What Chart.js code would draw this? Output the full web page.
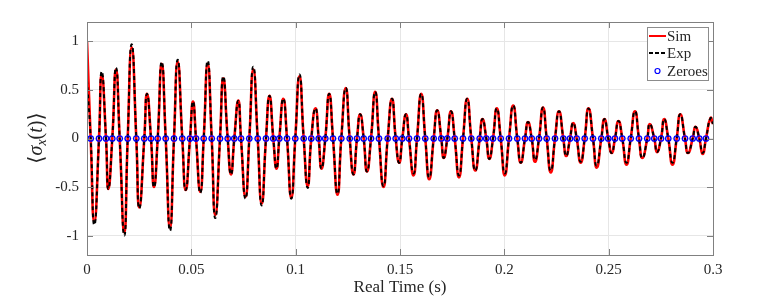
<!DOCTYPE html>
<html>
<head>
<meta charset="utf-8">
<script src="https://cdn.jsdelivr.net/npm/chart.js@4.4.0/dist/chart.umd.min.js"></script>
<style>
  body { margin: 0; background: #fff; }
  #wrap { width: 771px; height: 299px; }
</style>
</head>
<body>
<div id="wrap"><canvas id="chart" width="771" height="299"></canvas></div>
<script>
// peaks / troughs of the signal (time in s)
var extremaT = [0, 0.0035, 0.00704, 0.01021, 0.0139, 0.01788, 0.02142, 0.02506, 0.02875, 0.03211,
  0.0358, 0.03978, 0.04347, 0.0473, 0.0508, 0.0543, 0.05784, 0.06148, 0.06532, 0.06901,
  0.07251, 0.07596, 0.0797, 0.08372, 0.08746, 0.09081, 0.09407, 0.09791, 0.10184, 0.10577,
  0.1095, 0.11238, 0.11607, 0.12005, 0.12402, 0.12771, 0.13092, 0.13418, 0.13811, 0.14209,
  0.14616, 0.14961, 0.15287, 0.15647, 0.16016, 0.16399, 0.16782, 0.17094, 0.17444, 0.17827,
  0.1822, 0.18608, 0.18953, 0.19279, 0.19639, 0.20022, 0.20425, 0.20789, 0.21134, 0.21469,
  0.21853, 0.22227, 0.2262, 0.22965, 0.233, 0.23659, 0.24033, 0.24426, 0.248, 0.25145,
  0.25471, 0.25854, 0.26262, 0.26612, 0.26966, 0.27316, 0.27661, 0.28058, 0.28432, 0.28802,
  0.29161, 0.29506, 0.2988, 0.3];

var simVals = [1.0, -0.86, 0.66, -0.52, 0.71, -0.97, 0.94, -0.71, 0.46, -0.5,
  0.77, -0.92, 0.79, -0.53, 0.38, -0.55, 0.77, -0.79, 0.62, -0.37,
  0.39, -0.6, 0.71, -0.67, 0.44, -0.31, 0.41, -0.61, 0.64, -0.49,
  0.31, -0.31, 0.46, -0.58, 0.52, -0.37, 0.25, -0.34, 0.48, -0.5,
  0.41, -0.25, 0.25, -0.38, 0.46, -0.42, 0.29, -0.2, 0.28, -0.4,
  0.41, -0.33, 0.2, -0.21, 0.31, -0.38, 0.34, -0.25, 0.17, -0.24,
  0.32, -0.35, 0.28, -0.18, 0.16, -0.25, 0.31, -0.3, 0.2, -0.15,
  0.18, -0.27, 0.28, -0.2, 0.15, -0.14, 0.2, -0.27, 0.25, -0.15,
  0.12, -0.16, 0.21, 0.15];

var expVals = [0.6, -0.89, 0.69, -0.52, 0.73, -1.0, 0.97, -0.72, 0.46, -0.5,
  0.79, -0.95, 0.81, -0.53, 0.38, -0.56, 0.8, -0.82, 0.64, -0.37,
  0.39, -0.62, 0.74, -0.69, 0.44, -0.31, 0.41, -0.62, 0.66, -0.51,
  0.31, -0.31, 0.46, -0.57, 0.52, -0.37, 0.25, -0.34, 0.48, -0.49,
  0.41, -0.25, 0.25, -0.36, 0.46, -0.4, 0.29, -0.2, 0.28, -0.38,
  0.41, -0.33, 0.2, -0.21, 0.31, -0.36, 0.34, -0.25, 0.17, -0.22,
  0.32, -0.33, 0.28, -0.18, 0.16, -0.24, 0.31, -0.28, 0.2, -0.15,
  0.18, -0.25, 0.28, -0.2, 0.15, -0.14, 0.2, -0.25, 0.25, -0.15,
  0.12, -0.15, 0.21, 0.15];

// zero crossings (the blue circles)
var zeroT = [0.00177, 0.00575, 0.00911, 0.01212, 0.01567, 0.0195, 0.02363, 0.02746, 0.03067, 0.03388, 0.03772, 0.04169, 0.04567, 0.04936,
  0.05224, 0.05593, 0.05976, 0.06374, 0.06743, 0.07059, 0.0738, 0.07778, 0.0818, 0.08578, 0.08928, 0.09216, 0.09585, 0.09982,
  0.10385, 0.10749, 0.11104, 0.1142, 0.11789, 0.12187, 0.12589, 0.12939, 0.1326, 0.1361, 0.13993, 0.1441, 0.14794, 0.1511,
  0.15431, 0.15815, 0.16212, 0.16615, 0.16979, 0.17267, 0.17621, 0.18019, 0.18417, 0.18819, 0.19136, 0.19457, 0.19826, 0.20224,
  0.20621, 0.2099, 0.21311, 0.21661, 0.2203, 0.22428, 0.22826, 0.23147, 0.23468, 0.23851, 0.24249, 0.24647, 0.24982, 0.25303,
  0.25653, 0.26056, 0.26453, 0.26851, 0.27186, 0.27508, 0.27857, 0.2826, 0.28658, 0.29027, 0.29343, 0.29664];

var xTicks = [0, 0.05, 0.1, 0.15, 0.2, 0.25, 0.3];
var xTickLabels = ['0', '0.05', '0.1', '0.15', '0.2', '0.25', '0.3'];
var yTicks = [-1, -0.5, 0, 0.5, 1];
var yTickLabels = ['-1', '-0.5', '0', '0.5', '1'];

var serif = "'Liberation Serif', 'DejaVu Serif', serif";
var txtColor = '#262626';

function buildLine(vals) {
  var pts = [];
  for (var i = 0; i < extremaT.length; i++) pts.push({ x: extremaT[i], y: vals[i] });
  for (var j = 0; j < zeroT.length; j++) pts.push({ x: zeroT[j], y: 0 });
  pts.sort(function (a, b) { return a.x - b.x; });
  return pts;
}

// box, inward ticks, legend and y label
var frame = {
  id: 'frame',
  afterDatasetsDraw: function (chart) {
    var ctx = chart.ctx, a = chart.chartArea;
    var xs = chart.scales.x, ys = chart.scales.y;
    ctx.save();
    ctx.strokeStyle = '#808080';
    ctx.lineWidth = 1;
    ctx.strokeRect(Math.round(a.left) + 0.5, Math.round(a.top) + 0.5, Math.round(a.right - a.left), Math.round(a.bottom - a.top));
    ctx.beginPath();
    xTicks.forEach(function (v) {
      var px = Math.round(xs.getPixelForValue(v)) + 0.5;
      ctx.moveTo(px, a.bottom); ctx.lineTo(px, a.bottom - 6);
      ctx.moveTo(px, a.top); ctx.lineTo(px, a.top + 6);
    });
    yTicks.forEach(function (v) {
      var py = Math.round(ys.getPixelForValue(v)) + 0.5;
      ctx.moveTo(a.left, py); ctx.lineTo(a.left + 6, py);
      ctx.moveTo(a.right, py); ctx.lineTo(a.right - 6, py);
    });
    ctx.stroke();

    // legend
    var bx = 647, by = 27, bw = 61, bh = 53;
    ctx.fillStyle = '#fff';
    ctx.fillRect(bx, by, bw, bh);
    ctx.strokeStyle = '#8c8c8c';
    ctx.strokeRect(bx + 0.5, by + 0.5, bw, bh);
    var ds = chart.data.datasets;
    ctx.font = '15px ' + serif;
    ctx.textBaseline = 'middle';
    ctx.fillStyle = txtColor;
    var rows = [36, 53, 71];
    ctx.lineWidth = 2;
    ctx.strokeStyle = ds[0].borderColor;
    ctx.beginPath(); ctx.moveTo(649, rows[0]); ctx.lineTo(666, rows[0]); ctx.stroke();
    ctx.strokeStyle = ds[1].borderColor;
    ctx.setLineDash([4, 2]);
    ctx.beginPath(); ctx.moveTo(649, rows[1]); ctx.lineTo(666, rows[1]); ctx.stroke();
    ctx.setLineDash([]);
    ctx.lineWidth = 1.2;
    ctx.strokeStyle = ds[2].pointBorderColor;
    ctx.beginPath(); ctx.arc(657.5, rows[2], 2.5, 0, Math.PI * 2); ctx.stroke();
    ctx.fillText(ds[0].label, 667, rows[0] + 1);
    ctx.fillText(ds[1].label, 667, rows[1] + 1);
    ctx.fillText(ds[2].label, 667, rows[2] + 1);

    // y axis label <sigma_x(t)>
    var parts = [['\u27E8', '', 21, 0], ['\u03C3', 'italic ', 20, 0], ['x', 'italic ', 14, 5],
      ['(', '', 20, 0], ['t', 'italic ', 20, 0], [')', '', 20, 0], ['\u27E9', '', 21, 0]];
    ctx.translate(37, 138);
    ctx.rotate(-Math.PI / 2);
    var total = 0;
    parts.forEach(function (p) { ctx.font = p[1] + p[2] + 'px ' + serif; total += ctx.measureText(p[0]).width; });
    var cx = -total / 2;
    ctx.fillStyle = txtColor;
    parts.forEach(function (p) {
      ctx.font = p[1] + p[2] + 'px ' + serif;
      ctx.fillText(p[0], cx, p[3]);
      cx += ctx.measureText(p[0]).width;
    });
    ctx.restore();
  }
};

new Chart(document.getElementById('chart'), {
  type: 'line',
  data: {
    datasets: [
      { label: 'Sim', data: buildLine(simVals), borderColor: '#ff0000', borderWidth: 2.6, pointRadius: 0,
        tension: 0.55, fill: false, order: 3 },
      { label: 'Exp', data: buildLine(expVals), borderColor: '#000000', borderWidth: 2, borderDash: [4, 3],
        pointRadius: 0, tension: 0.55, fill: false, order: 2 },
      { label: 'Zeroes', type: 'scatter', data: zeroT.map(function (t) { return { x: t, y: 0 }; }),
        showLine: false, pointRadius: 2.7, pointBorderWidth: 1.3, pointBorderColor: '#0000ff',
        pointBackgroundColor: 'rgba(0,0,0,0)', order: 1 }
    ]
  },
  options: {
    responsive: false,
    animation: false,
    devicePixelRatio: 1,
    layout: { padding: { left: 0, right: 58, top: 22, bottom: 0 } },
    plugins: { legend: { display: false }, tooltip: { enabled: false } },
    scales: {
      x: {
        type: 'linear', min: 0, max: 0.3,
        afterBuildTicks: function (s) { s.ticks = xTicks.map(function (v) { return { value: v }; }); },
        afterFit: function (s) { s.height = 44; },
        grid: { color: '#e6e6e6', drawTicks: false },
        border: { display: false },
        ticks: { padding: 6, color: txtColor, font: { family: serif, size: 15 },
          callback: function (v) { return xTickLabels[xTicks.indexOf(v)]; } },
        title: { display: true, text: 'Real Time (s)', color: txtColor, font: { family: serif, size: 17 },
          padding: { top: 0, bottom: 1 } }
      },
      y: {
        type: 'linear', min: -1.2, max: 1.2,
        afterBuildTicks: function (s) { s.ticks = yTicks.map(function (v) { return { value: v }; }); },
        afterFit: function (s) { s.width = 87; },
        grid: { color: '#e6e6e6', drawTicks: false },
        border: { display: false },
        ticks: { padding: 8, color: txtColor, font: { family: serif, size: 15 },
          callback: function (v) { return yTickLabels[yTicks.indexOf(v)]; } }
      }
    }
  },
  plugins: [frame]
});
</script>
</body>
</html>
